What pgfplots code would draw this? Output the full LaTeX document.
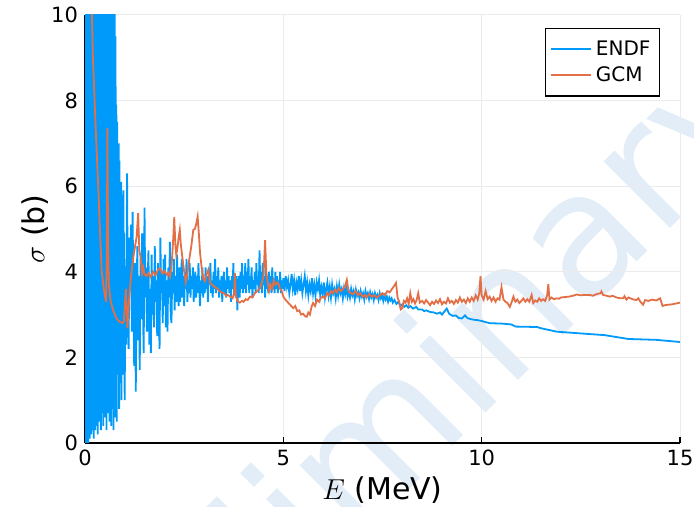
\documentclass[border=0pt]{standalone}
\usepackage{fontspec}
\setmainfont{DejaVu Sans}
\usepackage{pgfplots}
\pgfplotsset{compat=1.18}
\definecolor{jblue}{RGB}{0,154,250}
\definecolor{jorange}{RGB}{227,111,71}
\definecolor{wm}{RGB}{227,237,247}
\definecolor{gridc}{RGB}{235,235,235}
\begin{document}
\begin{tikzpicture}
\node[rotate=45, anchor=base, text=wm, font=\fontsize{86}{86}\selectfont, inner sep=0pt] at (176.5pt,-9pt) {Preliminary};
\begin{axis}[
 scale only axis, width=297.5pt, height=214pt,
 xmin=0, xmax=15, ymin=0, ymax=10,
 axis lines=left, axis line style={-, line width=0.8pt, black},
 xtick={0,5,10,15}, ytick={0,2,4,6,8,10},
 grid=major, major grid style={gridc, line width=0.5pt},
 tick align=inside, major tick length=3pt, tick style={black, line width=0.6pt},
 ticklabel style={font=\fontsize{10.5}{12}\selectfont},
 /pgf/number format/assume math mode=true,
 xlabel={$E$ (MeV)}, ylabel={$\sigma$ (b)},
 label style={font=\fontsize{15}{18}\selectfont},
 xlabel style={at={(axis description cs:0.5,-0.1098)}, anchor=center},
 ylabel style={at={(axis description cs:-0.084,0.5)}, anchor=center},
 legend style={at={(0.9664,0.9696)}, anchor=north east, draw=black, line width=0.6pt, font=\fontsize{10}{12}\selectfont, inner xsep=2.5pt, inner ysep=4pt},
 legend cell align=left,
 legend image code/.code={\draw[#1] (0pt,0pt) -- (20pt,0pt);},
 every axis plot/.append style={line width=0.9pt},
]
\addplot[jblue] coordinates {
(0.00,0.0)(0.01,11)(0.02,0.1)(0.03,11)(0.04,0.0)(0.05,11)(0.06,0.2)(0.07,11)(0.08,0.0)(0.09,11)
(0.10,0.3)(0.11,11)(0.12,0.1)(0.13,11)(0.14,0.4)(0.15,11)(0.16,0.2)(0.17,11)(0.18,0.6)(0.19,11)
(0.20,0.3)(0.21,11)(0.22,0.1)(0.23,11)(0.24,0.7)(0.25,11)(0.26,0.3)(0.27,11)(0.28,0.9)(0.29,11)
(0.30,0.4)(0.31,11)(0.32,0.2)(0.33,11)(0.34,0.8)(0.35,11)(0.36,0.5)(0.37,11)(0.38,1.1)(0.39,11)
(0.40,0.3)(0.41,11)(0.42,0.7)(0.43,11)(0.44,1.0)(0.45,11)(0.46,0.4)(0.47,11)(0.48,1.3)(0.49,11)
(0.50,0.6)(0.51,11)(0.52,0.9)(0.53,11)(0.54,0.3)(0.55,11)(0.56,1.2)(0.57,11)(0.58,0.7)(0.59,11)
(0.60,1.5)(0.61,11)(0.62,0.5)(0.63,11)(0.64,1.0)(0.65,11)(0.66,0.4)(0.67,11)(0.68,1.4)(0.69,11)
(0.70,0.8)(0.71,11)(0.72,0.3)(0.73,11)(0.74,1.1)(0.75,11)(0.76,0.6)
(0.77,9.5)(0.78,1.2)(0.79,7.9)(0.80,0.5)(0.81,7.5)(0.82,1.6)(0.83,6.6)(0.84,1.9)(0.85,7.0)(0.86,0.8)
(0.87,6.6)(0.88,2.2)(0.89,5.5)(0.90,1.4)(0.91,6.1)(0.92,1.0)(0.93,5.8)(0.94,2.4)(0.95,5.2)(0.96,1.6)
(0.97,5.9)(0.98,2.8)(0.99,4.9)(1.00,1.0)
(1.02,3.9)(1.04,2.3)(1.06,6.3)(1.08,3.1)(1.10,2.2)(1.12,4.8)(1.14,3.6)(1.16,5.1)(1.18,2.6)(1.20,5.4)
(1.22,3.3)(1.24,1.8)(1.26,4.2)(1.28,1.2)(1.30,3.5)(1.32,4.6)(1.34,2.4)(1.36,3.9)(1.38,1.7)(1.40,4.3)
(1.42,2.9)(1.44,4.9)(1.46,3.2)(1.48,2.1)(1.50,5.5)(1.52,3.4)(1.54,4.1)(1.56,2.6)(1.58,3.8)(1.60,4.5)
(1.62,2.3)(1.64,3.6)(1.66,2.1)(1.68,4.4)(1.70,3.0)(1.72,3.9)(1.74,2.7)(1.76,4.6)(1.78,3.3)(1.80,3.8)
(1.82,2.5)(1.84,4.2)(1.86,3.1)(1.88,2.2)(1.90,4.8)(1.92,3.5)(1.94,4.0)(1.96,2.8)(1.98,4.3)(2.00,3.2)
(2.02,4.4)(2.04,2.7)(2.06,3.8)(2.08,2.6)(2.10,4.1)(2.12,3.4)(2.14,4.7)(2.16,3.0)(2.18,2.8)(2.20,4.0)
(2.22,3.5)(2.24,4.3)(2.26,3.1)(2.28,3.9)(2.30,3.3)(2.32,4.4)(2.34,3.6)(2.36,3.2)(2.38,4.1)(2.40,3.3)
(2.42,3.8)(2.44,4.3)(2.46,3.4)(2.48,3.9)(2.50,3.2)(2.52,4.0)(2.54,3.6)(2.56,4.3)(2.58,3.3)(2.60,3.8)
(2.62,3.5)(2.64,4.2)(2.66,3.4)(2.68,3.9)(2.70,3.6)(2.72,4.1)(2.74,3.3)(2.76,3.7)(2.78,4.0)(2.80,3.4)
(2.82,3.9)(2.84,3.5)(2.86,4.2)(2.88,3.6)(2.90,3.2)(2.92,3.8)(2.94,3.5)(2.96,4.1)(2.98,3.4)(3.00,3.8)
(3.02,3.5)(3.04,4.1)(3.06,3.6)(3.08,3.9)(3.10,3.3)(3.12,4.0)(3.14,3.7)(3.16,4.2)(3.18,3.5)(3.20,3.8)
(3.22,3.4)(3.24,4.0)(3.26,3.6)(3.28,4.3)(3.30,3.5)(3.32,3.9)(3.34,3.6)(3.36,4.1)(3.38,3.4)(3.40,3.8)
(3.42,3.5)(3.44,3.9)(3.46,3.3)(3.48,3.7)(3.50,4.0)(3.52,3.5)(3.54,3.8)(3.56,3.4)(3.58,4.1)(3.60,3.6)
(3.62,3.9)(3.64,3.5)(3.66,3.8)(3.68,3.3)(3.70,3.9)(3.72,3.6)(3.74,4.2)(3.76,3.5)(3.78,3.7)(3.80,3.4)
(3.82,3.9)(3.84,3.1)(3.86,3.6)(3.88,3.9)(3.90,3.4)(3.92,4.0)(3.94,3.6)(3.96,4.2)(3.98,3.5)(4.00,3.9)
(4.02,3.6)(4.04,4.2)(4.06,3.5)(4.08,4.0)(4.10,3.7)(4.12,4.3)(4.14,3.5)(4.16,3.9)(4.18,3.6)(4.20,4.1)
(4.22,3.4)(4.24,3.8)(4.26,3.6)(4.28,4.0)(4.30,3.5)(4.32,4.2)(4.34,3.7)(4.36,3.9)(4.38,3.5)(4.40,4.5)
(4.42,3.6)(4.44,4.0)(4.46,3.5)(4.48,4.2)(4.50,3.7)(4.52,3.9)(4.54,3.4)(4.56,4.1)(4.58,3.6)(4.60,3.9)
(4.62,3.5)(4.64,4.0)(4.66,3.7)(4.68,3.9)(4.70,3.5)(4.72,4.1)(4.74,3.6)(4.76,3.8)(4.78,3.5)(4.80,4.0)
(4.82,3.6)(4.84,3.9)(4.86,3.5)(4.88,3.8)(4.90,3.6)(4.92,4.0)(4.94,3.5)(4.96,3.8)(4.98,3.6)(5.00,3.85)
(5.03,3.55)(5.06,3.9)(5.09,3.65)(5.12,3.8)(5.15,3.5)(5.18,3.7)(5.21,3.95)(5.24,3.6)(5.27,3.8)(5.30,3.45)
(5.33,3.75)(5.36,3.6)(5.39,3.9)(5.42,3.55)(5.45,3.8)(5.48,3.5)(5.51,3.7)(5.54,3.9)(5.57,3.55)(5.60,3.75)
(5.63,3.45)(5.66,3.7)(5.69,3.55)(5.72,3.85)(5.75,3.5)(5.78,3.7)(5.81,3.45)(5.84,3.75)(5.87,3.6)(5.90,3.8)
(5.93,3.45)(5.96,3.65)(5.99,3.5)(6.02,3.75)(6.05,3.4)(6.08,3.6)(6.11,3.75)(6.14,3.45)(6.17,3.65)(6.20,3.4)
(6.23,3.7)(6.26,3.5)(6.29,3.6)(6.32,3.38)(6.35,3.65)(6.38,3.45)(6.41,3.7)(6.44,3.5)(6.47,3.6)(6.50,3.38)
(6.53,3.62)(6.56,3.48)(6.59,3.66)(6.62,3.42)(6.65,3.55)(6.68,3.4)(6.71,3.6)(6.74,3.45)(6.77,3.55)(6.80,3.36)
(6.83,3.58)(6.86,3.44)(6.89,3.52)(6.92,3.38)(6.95,3.55)(6.98,3.42)(7.01,3.5)(7.04,3.35)(7.07,3.55)(7.10,3.42)
(7.13,3.5)(7.16,3.36)(7.19,3.52)(7.22,3.4)(7.25,3.48)(7.28,3.34)(7.31,3.5)(7.34,3.4)(7.37,3.46)(7.40,3.34)
(7.43,3.5)(7.46,3.38)(7.49,3.45)(7.52,3.32)(7.55,3.44)(7.58,3.35)(7.61,3.42)(7.64,3.3)(7.67,3.4)(7.70,3.33)
(7.73,3.38)(7.76,3.28)(7.80,3.34)
(7.85,3.25)(7.90,3.3)(7.95,3.2)(8.00,3.24)(8.05,3.18)(8.10,3.22)(8.15,3.16)(8.20,3.2)(8.27,3.14)(8.35,3.18)
(8.40,3.12)(8.50,3.12)(8.55,3.08)(8.60,3.1)(8.70,3.06)(8.80,3.05)(8.87,3.02)(8.95,3.05)(9.00,3.0)(9.05,3.06)
(9.12,3.14)(9.18,3.02)(9.27,2.97)(9.35,2.98)(9.42,2.92)(9.50,2.91)(9.58,2.98)(9.64,2.92)(9.70,2.9)(9.80,2.88)
(9.90,2.87)(10.0,2.85)(10.2,2.8)(10.5,2.79)(10.75,2.77)(10.85,2.72)(11.4,2.71)(11.5,2.68)(11.9,2.6)(12.5,2.56)
(13.1,2.52)(13.7,2.43)(14.4,2.41)(15.0,2.36)
};
\addlegendentry{ENDF}
\addplot[jorange] coordinates {
(0.15,11)(0.17,10.2)(0.20,9.0)(0.25,7.8)(0.30,6.7)(0.34,5.84)(0.38,4.9)(0.42,4.04)(0.46,3.7)(0.50,3.45)
(0.53,3.3)(0.55,4.5)(0.565,7.36)(0.58,5.0)(0.60,3.7)(0.65,3.3)(0.71,3.1)(0.80,2.9)(0.88,2.83)(0.95,2.8)
(0.98,2.85)(1.03,3.6)(1.07,2.68)(1.10,3.2)(1.16,3.9)(1.22,4.35)(1.28,4.7)(1.30,4.8)(1.34,5.37)(1.37,4.5)
(1.40,4.35)(1.44,3.97)(1.47,4.1)(1.50,3.95)(1.55,3.9)(1.60,3.97)(1.65,3.88)(1.72,4.0)(1.78,3.92)(1.84,4.05)
(1.89,4.08)(1.95,3.96)(2.00,4.02)(2.06,3.93)(2.10,3.98)(2.14,3.88)(2.18,4.1)(2.22,4.7)(2.25,5.28)(2.28,4.6)
(2.30,4.4)(2.33,4.55)(2.36,4.8)(2.39,4.98)(2.42,4.6)(2.46,4.3)(2.50,4.0)(2.54,3.76)(2.58,3.95)(2.63,4.3)
(2.68,4.6)(2.73,4.98)(2.77,5.0)(2.80,5.1)(2.84,5.29)(2.87,4.9)(2.90,4.45)(2.94,4.1)(2.98,3.85)(3.02,3.78)
(3.07,3.95)(3.11,4.05)(3.15,3.75)(3.20,3.7)(3.26,3.65)(3.32,3.62)(3.38,3.56)(3.44,3.52)(3.50,3.5)(3.56,3.44)
(3.60,3.46)(3.66,3.42)(3.72,3.38)(3.76,3.5)(3.78,3.97)(3.80,3.45)(3.84,3.32)(3.90,3.28)(3.96,3.32)(4.00,3.3)
(4.05,3.36)(4.10,3.34)(4.16,3.42)(4.22,3.4)(4.28,3.5)(4.34,3.55)(4.40,3.6)(4.46,3.75)(4.50,3.9)(4.54,4.74)
(4.57,4.0)(4.60,3.8)(4.64,3.55)(4.68,3.7)(4.72,3.6)(4.76,3.8)(4.80,3.7)(4.86,3.75)(4.92,3.6)(4.96,3.55)
(5.00,3.42)(5.05,3.35)(5.10,3.3)(5.15,3.25)(5.20,3.2)(5.25,3.15)(5.30,3.2)(5.35,3.08)(5.40,3.1)(5.45,3.0)
(5.50,3.02)(5.55,2.96)(5.59,2.95)(5.63,3.05)(5.67,3.0)(5.71,3.18)(5.75,3.27)(5.80,3.2)(5.85,3.35)(5.90,3.3)
(5.95,3.4)(6.00,3.42)(6.05,3.38)(6.10,3.5)(6.15,3.45)(6.20,3.55)(6.25,3.5)(6.30,3.58)(6.35,3.52)(6.40,3.62)
(6.45,3.55)(6.50,3.6)(6.55,3.65)(6.60,3.81)(6.64,3.55)(6.70,3.5)(6.76,3.48)(6.82,3.55)(6.88,3.45)(6.94,3.5)
(7.00,3.42)(7.05,3.46)(7.10,3.4)(7.16,3.48)(7.22,3.42)(7.30,3.45)(7.36,3.4)(7.44,3.46)(7.50,3.5)(7.56,3.45)
(7.62,3.55)(7.68,3.52)(7.74,3.6)(7.80,3.68)(7.84,3.74)(7.88,3.4)(7.92,3.3)(7.96,3.12)(8.00,3.15)(8.04,3.32)
(8.08,3.28)(8.12,3.38)(8.16,3.25)(8.20,3.5)(8.24,3.3)(8.28,3.36)(8.32,3.26)(8.36,3.34)(8.40,3.5)(8.44,3.28)
(8.50,3.32)(8.55,3.26)(8.60,3.34)(8.65,3.28)(8.70,3.22)(8.75,3.3)(8.80,3.25)(8.85,3.33)(8.90,3.27)(8.95,3.36)
(9.00,3.24)(9.05,3.3)(9.10,3.26)(9.15,3.38)(9.20,3.28)(9.25,3.32)(9.30,3.25)(9.35,3.34)(9.40,3.28)(9.45,3.4)
(9.50,3.3)(9.55,3.35)(9.60,3.27)(9.65,3.38)(9.70,3.3)(9.75,3.4)(9.80,3.32)(9.85,3.45)(9.90,3.35)(9.94,3.5)
(9.97,3.9)(10.0,3.45)(10.05,3.35)(10.1,3.55)(10.15,3.36)(10.2,3.42)(10.25,3.32)(10.3,3.4)(10.35,3.3)(10.4,3.38)
(10.45,3.35)(10.5,3.64)(10.55,3.35)(10.6,3.3)(10.65,3.27)(10.71,3.18)(10.76,3.3)(10.8,3.42)(10.85,3.3)(10.9,3.35)
(10.95,3.27)(11.0,3.32)(11.05,3.38)(11.1,3.3)(11.15,3.36)(11.2,3.3)(11.26,3.46)(11.3,3.27)(11.35,3.33)(11.4,3.3)
(11.45,3.38)(11.5,3.32)(11.55,3.36)(11.6,3.32)(11.65,3.45)(11.68,3.71)(11.71,3.35)(11.76,3.4)(11.82,3.36)(11.89,3.38)
(11.95,3.37)(12.0,3.4)(12.1,3.41)(12.2,3.42)(12.3,3.44)(12.4,3.47)(12.5,3.45)(12.6,3.46)(12.73,3.46)(12.8,3.44)
(12.9,3.48)(13.0,3.5)(13.02,3.54)(13.06,3.46)(13.15,3.44)(13.23,3.42)(13.3,3.44)(13.4,3.4)(13.5,3.38)(13.57,3.38)
(13.6,3.43)(13.65,3.35)(13.7,3.4)(13.8,3.36)(13.9,3.34)(13.95,3.38)(14.0,3.3)(14.07,3.23)(14.12,3.34)(14.2,3.32)
(14.3,3.35)(14.4,3.33)(14.5,3.38)(14.56,3.2)(14.62,3.22)(14.7,3.23)(14.8,3.24)(14.9,3.26)(15.0,3.28)
};
\addlegendentry{GCM}
\end{axis}
\pgfresetboundingbox
\useasboundingbox (-42.5pt,-32pt) rectangle (304.5pt,221.5pt);
\end{tikzpicture}
\end{document}
